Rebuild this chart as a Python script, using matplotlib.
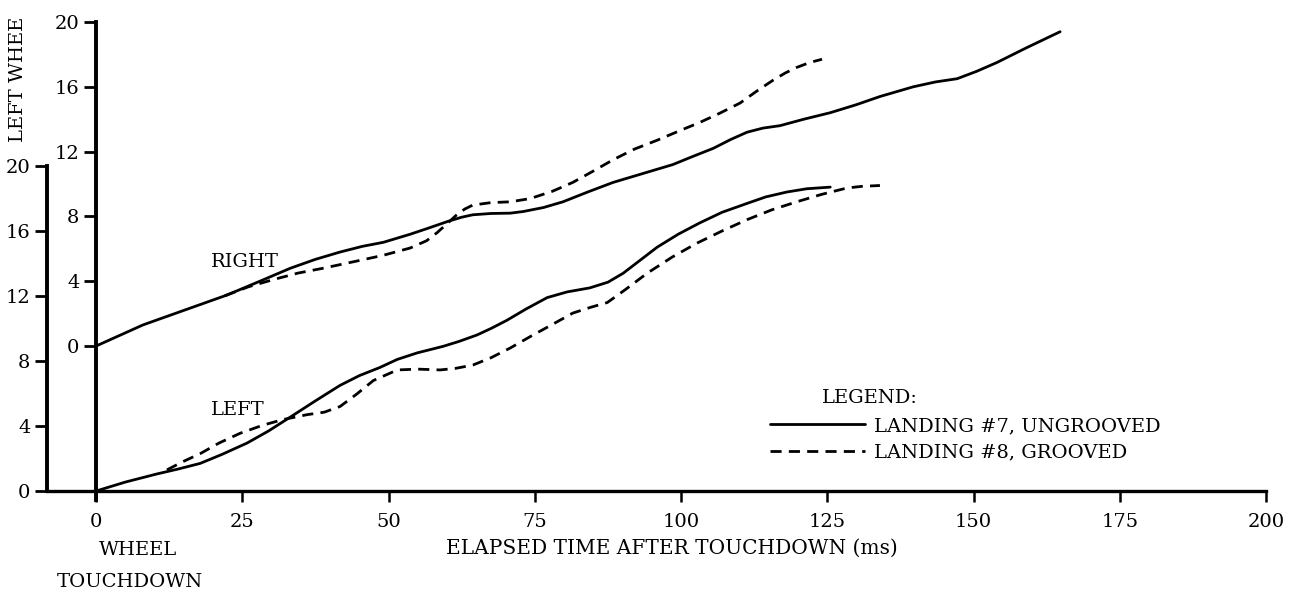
# wheel spin-up after touchdown, landing 7 vs 8

import numpy as np
import matplotlib
matplotlib.use("Agg")
import matplotlib.pyplot as plt
from matplotlib.lines import Line2D

# right wheel (upper scale)
right_ungr_t = [0, 8.0, 15.0, 22.4, 28.0, 33.2, 37.5, 41.7, 45.5, 49.1, 53.7, 57.0, 60.2,
                62.5, 64.4, 67.5, 70.8, 73.0, 76.5, 79.8, 84.0, 88.4, 93.5, 98.6, 102.0,
                105.5, 108.5, 111.3, 114.0, 116.9, 121.0, 125.5, 130.0, 134.0, 139.7,
                143.5, 147.2, 150.5, 154.0, 159.0, 164.8]
right_ungr_v = [0, 1.3, 2.2, 3.15, 4.0, 4.8, 5.35, 5.8, 6.15, 6.4, 6.9, 7.3, 7.7,
                7.95, 8.1, 8.18, 8.2, 8.3, 8.55, 8.9, 9.5, 10.1, 10.65, 11.2, 11.7,
                12.2, 12.75, 13.2, 13.45, 13.6, 14.0, 14.4, 14.9, 15.4, 16.0,
                16.3, 16.5, 16.95, 17.5, 18.4, 19.4]
right_gr_t = [22.0, 26.0, 30.3, 34.5, 38.8, 44.0, 49.1, 53.7, 56.5, 58.3, 60.0, 61.5,
              63.0, 64.4, 67.5, 70.8, 74.2, 78.0, 81.5, 85.0, 88.4, 92.0, 95.9, 99.5,
              103.2, 106.5, 110.1, 113.0, 115.7, 117.8, 119.8, 122.0, 124.1]
right_gr_v = [3.1, 3.65, 4.1, 4.5, 4.8, 5.2, 5.6, 6.05, 6.5, 7.0, 7.55, 8.05,
              8.45, 8.7, 8.85, 8.9, 9.1, 9.55, 10.1, 10.8, 11.5, 12.15, 12.7, 13.25,
              13.8, 14.35, 15.0, 15.75, 16.4, 16.85, 17.2, 17.5, 17.7]

# left wheel (lower scale)
left_ungr_t = [0, 5.0, 10.4, 14.0, 17.8, 21.5, 25.8, 29.5, 33.2, 37.5, 41.7, 45.0, 48.5,
               51.5, 54.9, 59.3, 62.0, 65.1, 67.5, 70.2, 73.5, 77.1, 80.5, 84.4, 87.5,
               90.1, 93.0, 95.9, 99.5, 103.2, 107.0, 111.3, 114.5, 118.1, 121.5, 125.5]
left_ungr_v = [0, 0.55, 1.05, 1.35, 1.7, 2.25, 2.95, 3.7, 4.55, 5.55, 6.5, 7.1, 7.6,
               8.1, 8.5, 8.9, 9.2, 9.6, 10.0, 10.5, 11.2, 11.9, 12.25, 12.5, 12.85,
               13.4, 14.2, 15.0, 15.8, 16.5, 17.15, 17.7, 18.1, 18.4, 18.6, 18.7]
left_gr_t = [12.1, 14.8, 17.8, 21.0, 24.6, 28.5, 32.0, 36.1, 39.0, 41.7, 44.5, 47.4,
             51.5, 55.0, 58.8, 61.5, 64.4, 67.5, 70.8, 74.2, 78.0, 81.5, 84.5, 87.4,
             90.5, 94.2, 98.5, 102.7, 107.0, 111.3, 115.5, 119.8, 124.0, 128.4, 131.0, 134.0]
left_gr_v = [1.3, 1.8, 2.3, 2.95, 3.55, 4.05, 4.4, 4.7, 4.85, 5.2, 5.95, 6.8,
             7.45, 7.5, 7.45, 7.55, 7.75, 8.2, 8.8, 9.5, 10.25, 10.95, 11.3, 11.6,
             12.4, 13.4, 14.4, 15.25, 16.0, 16.7, 17.3, 17.8, 18.25, 18.65, 18.75, 18.8]

x_ticks = [0, 25, 50, 75, 100, 125, 150, 175, 200]
y_ticks = [0, 4, 8, 12, 16, 20]

plt.rcParams["font.family"] = ["DejaVu Serif"]
FS = 14
W, H = 1297, 593

fig = plt.figure(figsize=(W / 100, H / 100), dpi=100)
ax = fig.add_axes([47 / W, (H - 491) / H, (1266 - 47) / W, (491 - 22) / H])
ax.set_xlim(-8.4, 200)
ax.set_ylim(0, (491 - 22) / 16.25)

ax2 = ax.twinx()
ax2.set_ylim(-(491 - 346) / 16.2, 20)

solid = dict(color="black", lw=2.0, solid_capstyle="round", solid_joinstyle="round")
dashed = dict(color="black", lw=2.0, linestyle=(0, (4, 2.6)), dash_joinstyle="round")

ax2.plot(right_ungr_t, right_ungr_v, **solid)
ax2.plot(right_gr_t, right_gr_v, **dashed)
ax.plot(left_ungr_t, left_ungr_v, **solid)
ax.plot(left_gr_t, left_gr_v, **dashed)

# axes styling
for s in ["top", "right"]:
    ax.spines[s].set_visible(False)
ax.spines["left"].set_bounds(0, 20)
ax.spines["left"].set_linewidth(2.8)
ax.spines["bottom"].set_linewidth(2.4)
ax.set_yticks(y_ticks)
ax.set_xticks(x_ticks)
ax.tick_params(axis="y", direction="out", length=9, width=2, pad=3, labelsize=FS)
ax.tick_params(axis="x", direction="out", length=8, width=1.8, pad=8, labelsize=FS)

for s in ["top", "right", "bottom"]:
    ax2.spines[s].set_visible(False)
ax2.spines["left"].set_visible(True)
ax2.spines["left"].set_position(("data", 0))
ax2.spines["left"].set_bounds(-9.5, 20)
ax2.spines["left"].set_linewidth(2.8)
ax2.yaxis.set_ticks_position("left")
ax2.yaxis.set_label_position("left")
ax2.set_yticks(y_ticks)
ax2.tick_params(axis="y", direction="out", length=9, width=2, pad=3, labelsize=FS)

ax.text(25.5, 14.1, "RIGHT", fontsize=FS, ha="center", va="center")
ax.text(24.3, 5.0, "LEFT", fontsize=FS, ha="center", va="center")

# axis captions
fig.text(672 / W, 1 - 548 / H, "ELAPSED TIME AFTER TOUCHDOWN (ms)", fontsize=FS + 0.5,
         ha="center", va="center")
fig.text(138 / W, 1 - 550 / H, "WHEEL", fontsize=FS, ha="center", va="center")
fig.text(130 / W, 1 - 582 / H, "TOUCHDOWN", fontsize=FS, ha="center", va="center")
fig.text(18 / W, 1 - 142 / H, "LEFT WHEE", fontsize=FS, rotation=90,
         ha="center", va="bottom")

# legend
fig.text(822 / W, 1 - 398 / H, "LEGEND:", fontsize=FS, ha="left", va="center")
handles = [Line2D([], [], **solid), Line2D([], [], **dashed)]
ax.legend(handles, ["LANDING #7, UNGROOVED", "LANDING #8, GROOVED"],
          loc="upper left", bbox_to_anchor=(770 / W, 1 - 417 / H),
          bbox_transform=fig.transFigure, frameon=False, fontsize=FS,
          handlelength=4.9, handletextpad=0.45, labelspacing=0.45,
          borderpad=0, borderaxespad=0)

fig.savefig("out.png", dpi=100)
